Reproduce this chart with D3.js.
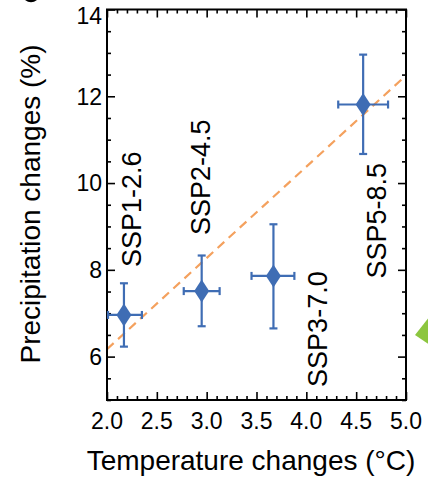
<!DOCTYPE html>
<html>
<head>
<meta charset="utf-8">
<script src="https://cdn.jsdelivr.net/npm/d3@7"></script>
<style>
  html, body { margin: 0; padding: 0; background: #fff; }
  svg { display: block; font-family: "Liberation Sans", Arial, Helvetica, sans-serif; }
</style>
</head>
<body>
<script>
// ---- data ----
const scenarios  = ["SSP1-2.6", "SSP2-4.5", "SSP3-7.0", "SSP5-8.5"];
const tempMean   = [2.17, 2.95, 3.67, 4.57];
const tempLow    = [2.01, 2.77, 3.45, 4.32];
const tempHigh   = [2.35, 3.13, 3.88, 4.82];
const precipMean = [6.96, 7.51, 7.86, 11.81];
const precipLow  = [6.23, 6.70, 6.65, 10.67];
const precipHigh = [7.69, 8.33, 9.05, 12.96];
const fitX = [2.0, 5.0];
const fitY = [6.17, 12.48];
const xTickLabels = [2.0, 2.5, 3.0, 3.5, 4.0, 4.5, 5.0];
const yTickLabels = [6, 8, 10, 12, 14];

// ---- layout / style ----
const W = 428, H = 478;
const pLeft = 107, pRight = 406, pTop = 9.5, pBottom = 400;
const blue = "#3f6db4", orange = "#f4a15e";
// label offset from its point (px): [dx, dy]
const labelOffsets = [[17.5, -48], [8, -56], [54, 111], [23, 174]];

const svg = d3.select("body").append("svg").attr("width", W).attr("height", H);

const x = d3.scaleLinear().domain([2, 5]).range([pLeft, pRight]);
const y = d3.scaleLinear().domain([5, 14]).range([pBottom, pTop]);

svg.append("clipPath").attr("id", "plotclip")
  .append("rect").attr("x", pLeft).attr("y", pTop).attr("width", pRight - pLeft).attr("height", pBottom - pTop);

// fit line
svg.append("path")
  .attr("clip-path", "url(#plotclip)")
  .attr("d", d3.line().x(d => x(d[0])).y(d => y(d[1]))(fitX.map((v, i) => [v, fitY[i]])))
  .attr("fill", "none").attr("stroke", orange).attr("stroke-width", 2.2)
  .attr("stroke-dasharray", "9,6");

// axes with inward ticks
const xMinor = d3.range(2, 5.0001, 0.1).map(v => +v.toFixed(2));
const yMinor = d3.range(5, 14.0001, 0.5).map(v => +v.toFixed(2));
const isMajorX = v => Math.abs(v * 2 - Math.round(v * 2)) < 1e-6;
const isMajorY = v => Math.abs(v / 2 - Math.round(v / 2)) < 1e-6;

function tickGroup(axisGen, transform) {
  const g = svg.append("g").attr("transform", transform).call(axisGen);
  g.select(".domain").remove();
  g.selectAll("text").remove();
  g.selectAll("line").attr("stroke", "#000").attr("stroke-width", 1.6);
  return g;
}
tickGroup(d3.axisBottom(x).tickValues(xMinor).tickSizeInner(0).tickSizeOuter(0), `translate(0,${pBottom})`)
  .selectAll(".tick line").attr("y2", d => isMajorX(d) ? -8 : -4);
tickGroup(d3.axisTop(x).tickValues(xMinor).tickSizeInner(0).tickSizeOuter(0), `translate(0,${pTop})`)
  .selectAll(".tick line").attr("y2", d => isMajorX(d) ? 8 : 4);
tickGroup(d3.axisLeft(y).tickValues(yMinor).tickSizeInner(0).tickSizeOuter(0), `translate(${pLeft},0)`)
  .selectAll(".tick line").attr("x2", d => isMajorY(d) ? 8 : 4);
tickGroup(d3.axisRight(y).tickValues(yMinor).tickSizeInner(0).tickSizeOuter(0), `translate(${pRight},0)`)
  .selectAll(".tick line").attr("x2", d => isMajorY(d) ? -8 : -4);

// frame
svg.append("rect").attr("x", pLeft).attr("y", pTop).attr("width", pRight - pLeft).attr("height", pBottom - pTop)
  .attr("fill", "none").attr("stroke", "#000").attr("stroke-width", 2);

// tick labels
svg.append("g").selectAll("text").data(xTickLabels).join("text")
  .attr("x", d => x(d)).attr("y", 429)
  .attr("text-anchor", "middle").attr("font-size", 23).attr("fill", "#000")
  .text(d => d3.format(".1f")(d));

svg.append("g").selectAll("text").data(yTickLabels).join("text")
  .attr("x", 102).attr("y", d => Math.max(y(d), 16))
  .attr("dy", "0.36em")
  .attr("text-anchor", "end").attr("font-size", 23).attr("fill", "#000")
  .text(d => d);

// axis titles
svg.append("text").attr("x", 251).attr("y", 470)
  .attr("text-anchor", "middle").attr("font-size", 28).attr("fill", "#000")
  .text("Temperature changes (°C)");

svg.append("text")
  .attr("transform", `translate(40,${(43 + 365) / 2}) rotate(-90)`)
  .attr("text-anchor", "middle").attr("font-size", 28).attr("fill", "#000")
  .text("Precipitation changes (%)");

// points with error bars
const pts = scenarios.map((s, i) => ({
  s, t: tempMean[i], tl: tempLow[i], th: tempHigh[i],
  p: precipMean[i], pl: precipLow[i], ph: precipHigh[i], off: labelOffsets[i]
}));

const cap = 4;
const gp = svg.append("g");
const eb = gp.selectAll("g.eb").data(pts).join("g").attr("class", "eb")
  .attr("stroke", blue).attr("stroke-width", 2.2).attr("fill", "none");
eb.append("line").attr("x1", d => x(d.t)).attr("x2", d => x(d.t)).attr("y1", d => y(d.pl)).attr("y2", d => y(d.ph));
eb.append("line").attr("x1", d => x(d.t) - cap).attr("x2", d => x(d.t) + cap).attr("y1", d => y(d.pl)).attr("y2", d => y(d.pl));
eb.append("line").attr("x1", d => x(d.t) - cap).attr("x2", d => x(d.t) + cap).attr("y1", d => y(d.ph)).attr("y2", d => y(d.ph));
eb.append("line").attr("x1", d => x(d.tl)).attr("x2", d => x(d.th)).attr("y1", d => y(d.p)).attr("y2", d => y(d.p));
eb.append("line").attr("x1", d => x(d.tl)).attr("x2", d => x(d.tl)).attr("y1", d => y(d.p) - cap).attr("y2", d => y(d.p) + cap);
eb.append("line").attr("x1", d => x(d.th)).attr("x2", d => x(d.th)).attr("y1", d => y(d.p) - cap).attr("y2", d => y(d.p) + cap);

const dw = 7.5, dh = 11.5;
gp.selectAll("path.dia").data(pts).join("path").attr("class", "dia")
  .attr("d", d => {
    const cx = x(d.t), cy = y(d.p);
    return `M${cx},${cy - dh}L${cx + dw},${cy}L${cx},${cy + dh}L${cx - dw},${cy}Z`;
  })
  .attr("fill", blue);

// scenario labels
svg.append("g").selectAll("text").data(pts).join("text")
  .attr("transform", d => `translate(${x(d.t) + d.off[0]},${y(d.p) + d.off[1]}) rotate(-90)`)
  .attr("text-anchor", "start").attr("font-size", 27).attr("fill", "#000")
  .text(d => d.s);

// decorations from the source figure: sliver of a cropped panel mark and green arrow
svg.append("path").attr("d", "M25,0Q31,4.5 37,0Z").attr("fill", "#000");
svg.append("path").attr("d", "M415,335L430,316L430,345Z").attr("fill", "#8cc63f");
</script>
</body>
</html>
